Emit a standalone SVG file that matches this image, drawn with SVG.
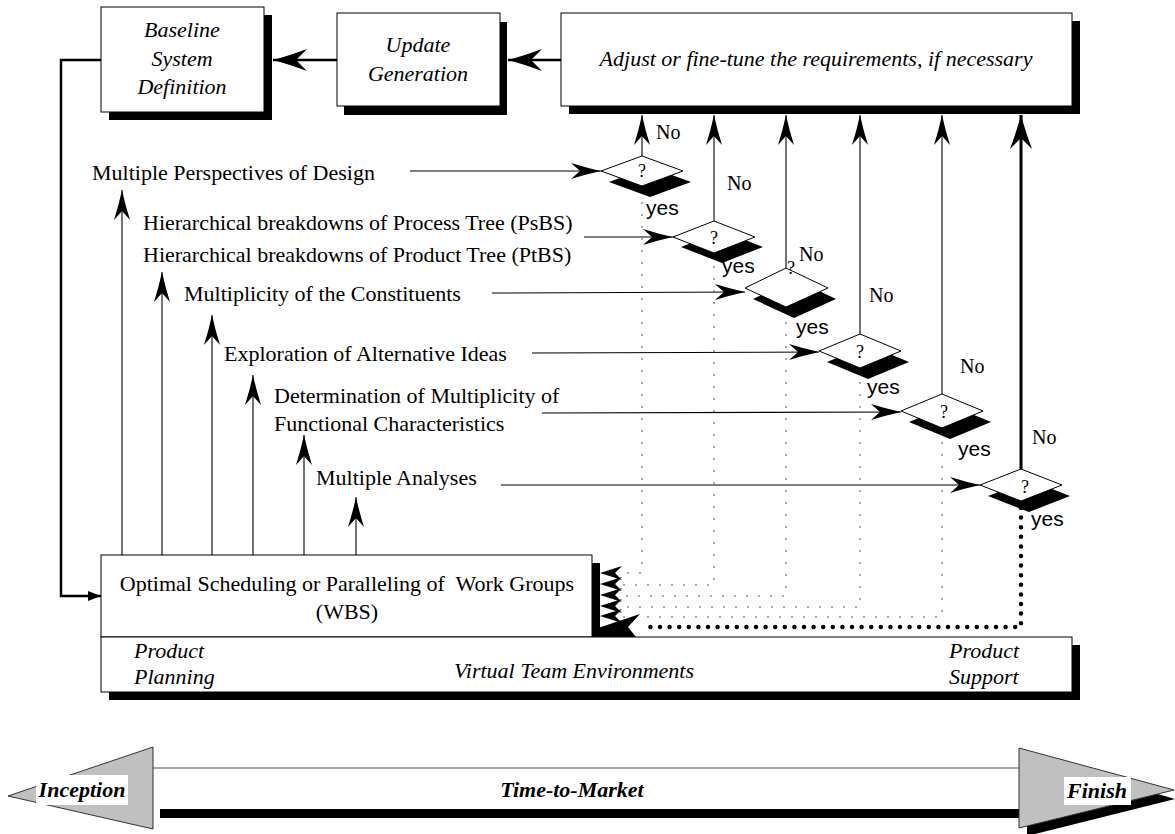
<svg xmlns="http://www.w3.org/2000/svg" width="1175" height="834" viewBox="0 0 1175 834">
  <style>
    .box { fill: #fff; stroke: #000; stroke-width: 1; }
    .shadow { fill: #000; }
    .it { font-family: "Liberation Serif", serif; font-style: italic; font-size: 22px; fill: #000; }
    .rm { font-family: "Liberation Serif", serif; font-size: 22px; fill: #000; }
    .no { font-family: "Liberation Serif", serif; font-size: 20px; fill: #000; }
    .q { font-family: "Liberation Serif", serif; font-size: 18px; fill: #000; text-anchor: middle; }
    .yes { font-family: "Liberation Sans", sans-serif; font-size: 21px; fill: #000; }
    .bi { font-family: "Liberation Serif", serif; font-style: italic; font-weight: bold; font-size: 22px; fill: #000; }
    .mid { text-anchor: middle; }
    .thick { stroke: #000; stroke-width: 2.5; fill: none; }
    .thin { stroke: #000; stroke-width: 1.1; fill: none; }
    .up { stroke: #000; stroke-width: 3; fill: none; }
    .dot { stroke: #555; stroke-width: 1; stroke-dasharray: 2 10; fill: none; }
    .bigdot { stroke: #000; stroke-width: 4.5; stroke-linecap: round; stroke-dasharray: 0 9.6; fill: none; }
    .dia { fill: #fff; stroke: #000; stroke-width: 1; }
    .tri { fill: #c0c0c0; stroke: #333; stroke-width: 1; }
  </style>
  <defs>
    <marker id="head" markerUnits="userSpaceOnUse" viewBox="-34 -10 36 20" refX="0" refY="0" markerWidth="36" markerHeight="20" orient="auto" overflow="visible">
      <path d="M0,0 Q-14,-3 -30,-8 L-21,0 L-30,8 Q-14,3 0,0 Z" fill="#000"/>
    </marker>
    <marker id="headBig" markerUnits="userSpaceOnUse" viewBox="-36 -12 38 24" refX="0" refY="0" markerWidth="38" markerHeight="24" orient="auto" overflow="visible">
      <path d="M0,0 Q-15,-4 -34,-11 L-23,0 L-34,11 Q-15,4 0,0 Z" fill="#000"/>
    </marker>
    <marker id="headSmall" markerUnits="userSpaceOnUse" viewBox="-14 -6 16 12" refX="0" refY="0" markerWidth="16" markerHeight="12" orient="auto" overflow="visible">
      <path d="M0,0 L-13,-5 L-13,5 Z" fill="#000"/>
    </marker>
  </defs>

  <!-- top row of boxes -->
  <g id="baseline">
    <rect class="shadow" x="109" y="15" width="163" height="105"/>
    <rect class="box" x="101" y="7" width="163" height="105"/>
    <text class="it mid" x="182" y="37">Baseline</text>
    <text class="it mid" x="182" y="66">System</text>
    <text class="it mid" x="182" y="94">Definition</text>
  </g>
  <g id="update">
    <rect class="shadow" x="344" y="22" width="163" height="93"/>
    <rect class="box" x="337" y="13" width="163" height="93"/>
    <text class="it mid" x="418" y="52">Update</text>
    <text class="it mid" x="418" y="81">Generation</text>
  </g>
  <g id="adjust">
    <rect class="shadow" x="569" y="21" width="511" height="93"/>
    <rect class="box" x="561" y="13" width="511" height="93"/>
    <text class="it mid" x="816" y="66">Adjust or fine-tune the requirements, if necessary</text>
  </g>

  <!-- objectives, listed down the left -->
  <g id="perspectives"><text class="rm" x="92" y="180">Multiple Perspectives of Design</text></g>
  <g id="breakdowns">
    <text class="rm" x="143" y="230">Hierarchical breakdowns of Process Tree (PsBS)</text>
    <text class="rm" x="143" y="262">Hierarchical breakdowns of Product Tree (PtBS)</text>
  </g>
  <g id="constituents"><text class="rm" x="184" y="301">Multiplicity of the Constituents</text></g>
  <g id="alternatives"><text class="rm" x="224" y="361">Exploration of Alternative Ideas</text></g>
  <g id="functional">
    <text class="rm" x="274" y="403">Determination of Multiplicity of</text>
    <text class="rm" x="274" y="431">Functional Characteristics</text>
  </g>
  <g id="analyses"><text class="rm" x="316" y="485">Multiple Analyses</text></g>

  <!-- decision diamonds -->
  <g id="check1">
    <polygon class="shadow" points="609,182 650,167 691,182 650,197"/>
    <polygon class="dia" points="601,171 642,156 683,171 642,186"/>
    <text class="q" x="642" y="177">?</text>
  </g>
  <g id="check2">
    <polygon class="shadow" points="681,247 722,231 763,247 722,263"/>
    <polygon class="dia" points="673,237 714,221 755,237 714,253"/>
    <text class="q" x="714" y="244">?</text>
  </g>
  <g id="check3">
    <polygon class="shadow" points="753,299 794,279 836,299 794,318"/>
    <polygon class="dia" points="745,288 786,268 828,288 786,307"/>
    <text class="q" x="791" y="274">?</text>
  </g>
  <g id="check4">
    <polygon class="shadow" points="827,362 868,345 909,362 868,379"/>
    <polygon class="dia" points="819,351 860,334 901,351 860,368"/>
    <text class="q" x="860" y="358">?</text>
  </g>
  <g id="check5">
    <polygon class="shadow" points="909,422 950,405 991,422 950,439"/>
    <polygon class="dia" points="901,411 942,394 983,411 942,428"/>
    <text class="q" x="944" y="418">?</text>
  </g>
  <g id="check6">
    <polygon class="shadow" points="988,496 1029,480 1070,496 1029,512"/>
    <polygon class="dia" points="980,485 1021,469 1062,485 1021,501"/>
    <text class="q" x="1025" y="493">?</text>
  </g>

  <!-- bottom bars -->
  <g id="wbs">
    <rect class="shadow" x="109" y="563" width="491" height="74"/>
    <rect class="box" x="101" y="555" width="491" height="82"/>
    <text class="rm mid" x="347" y="591" xml:space="preserve">Optimal Scheduling or Paralleling of  Work Groups</text>
    <text class="rm mid" x="347" y="619">(WBS)</text>
  </g>
  <g id="environment">
    <rect class="shadow" x="109" y="645" width="971" height="55"/>
    <rect class="box" x="101" y="637" width="971" height="55"/>
    <text class="it" x="134" y="658">Product</text>
    <text class="it" x="134" y="684">Planning</text>
    <text class="it mid" x="574" y="678">Virtual Team Environments</text>
    <text class="it" x="949" y="658">Product</text>
    <text class="it" x="949" y="684">Support</text>
  </g>

  <!-- connectors -->
  <g id="connectors">
    <!-- update chain along the top -->
    <line class="thick" x1="561" y1="60" x2="508" y2="60" marker-end="url(#headBig)"/>
    <line class="thick" x1="337" y1="60" x2="273" y2="60" marker-end="url(#headBig)"/>
    <path class="thick" d="M101,60 H61 V596 H101" marker-end="url(#headSmall)"/>

    <!-- WBS feeds every objective -->
    <line class="thin" x1="122" y1="555" x2="122" y2="190" marker-end="url(#head)"/>
    <line class="thin" x1="162" y1="555" x2="162" y2="272" marker-end="url(#head)"/>
    <line class="thin" x1="212" y1="555" x2="212" y2="315" marker-end="url(#head)"/>
    <line class="thin" x1="253" y1="555" x2="253" y2="375" marker-end="url(#head)"/>
    <line class="thin" x1="304" y1="555" x2="304" y2="435" marker-end="url(#head)"/>
    <line class="thin" x1="356" y1="555" x2="356" y2="497" marker-end="url(#head)"/>

    <!-- objectives into their checks -->
    <line class="thin" x1="410" y1="171" x2="601" y2="171" marker-end="url(#head)"/>
    <line class="thin" x1="584" y1="237" x2="673" y2="237" marker-end="url(#head)"/>
    <line class="thin" x1="492" y1="293" x2="745" y2="292" marker-end="url(#head)"/>
    <line class="thin" x1="532" y1="353" x2="819" y2="352" marker-end="url(#head)"/>
    <line class="thin" x1="542" y1="413" x2="901" y2="412" marker-end="url(#head)"/>
    <line class="thin" x1="501" y1="485" x2="980" y2="485" marker-end="url(#head)"/>

    <!-- "No" branches back up to the requirements -->
    <line class="thin" x1="642" y1="156" x2="642" y2="115" marker-end="url(#head)"/>
    <line class="thin" x1="714" y1="221" x2="714" y2="115" marker-end="url(#head)"/>
    <line class="thin" x1="786" y1="268" x2="786" y2="115" marker-end="url(#head)"/>
    <line class="thin" x1="860" y1="334" x2="860" y2="115" marker-end="url(#head)"/>
    <line class="thin" x1="942" y1="394" x2="942" y2="115" marker-end="url(#head)"/>
    <line class="up" x1="1021" y1="469" x2="1021" y2="115" marker-end="url(#headBig)"/>
    <text class="no" x="656" y="139">No</text>
    <text class="no" x="727" y="190">No</text>
    <text class="no" x="799" y="261">No</text>
    <text class="no" x="869" y="302">No</text>
    <text class="no" x="960" y="373">No</text>
    <text class="no" x="1032" y="444">No</text>

    <!-- "yes" branches down to the WBS -->
    <path class="dot" d="M642,202 V573 H620"/>
    <path class="dot" d="M714,266 V585 H620"/>
    <path class="dot" d="M786,322 V596 H620"/>
    <path class="dot" d="M860,382 V607 H620"/>
    <path class="dot" d="M942,442 V617 H620"/>
    <path class="bigdot" d="M1021,508 V627 H642"/>
    <path d="M600,573 L622,566 L615,573 L622,580 Z M600,584 L622,577 L615,584 L622,591 Z M600,595 L622,588 L615,595 L622,602 Z M600,606 L622,599 L615,606 L622,613 Z M600,616 L622,609 L615,616 L622,623 Z M598,628 L640,614 L628,627 L636,637 L600,637 Z" fill="#000"/>
    <text class="yes" x="646" y="215">yes</text>
    <text class="yes" x="722" y="273">yes</text>
    <text class="yes" x="796" y="334">yes</text>
    <text class="yes" x="867" y="394">yes</text>
    <text class="yes" x="958" y="456">yes</text>
    <text class="yes" x="1031" y="526">yes</text>
  </g>

  <!-- time line along the bottom -->
  <g id="timeline">
    <rect class="shadow" x="160" y="808" width="862" height="10"/>
    <polygon class="shadow" points="1027,756 1175,799 1027,836"/>
    <rect x="153" y="768" width="866" height="41" fill="#fff"/>
    <line x1="153" y1="768" x2="1019" y2="768" stroke="#555" stroke-width="1"/>
    <polygon class="tri" points="153,747 8,796 153,829"/>
    <polygon class="tri" points="1019,748 1174,790 1019,828"/>
    <rect x="36" y="775" width="92" height="30" fill="#fff"/>
    <text class="bi mid" x="82" y="797">Inception</text>
    <text class="bi mid" x="572" y="797">Time-to-Market</text>
    <rect x="1064" y="777" width="67" height="28" fill="#fff"/>
    <text class="bi mid" x="1097" y="798">Finish</text>
  </g>
</svg>
